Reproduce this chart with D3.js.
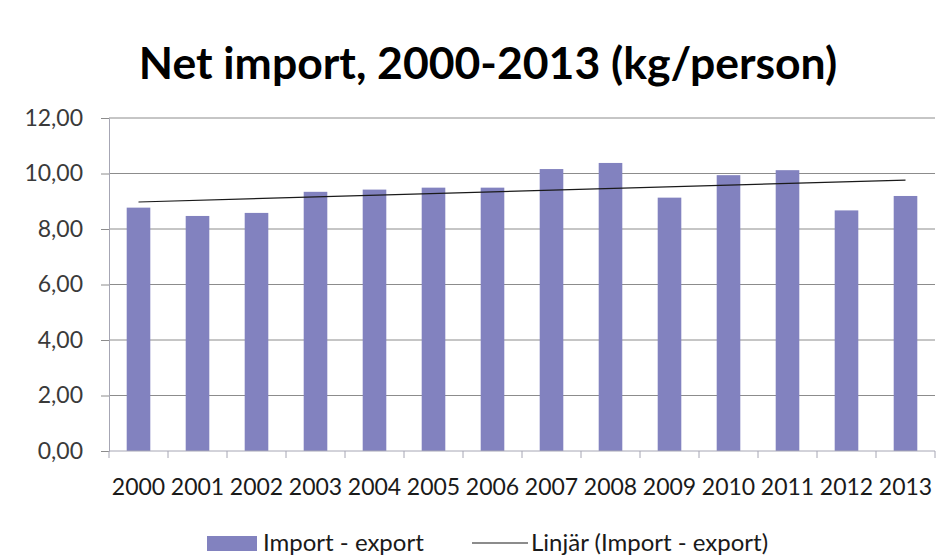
<!DOCTYPE html>
<html>
<head>
<meta charset="utf-8">
<script src="https://cdn.jsdelivr.net/npm/d3@7/dist/d3.min.js"></script>
<style>
  html, body { margin: 0; padding: 0; background: #ffffff; }
  svg { display: block; font-family: Lato, "Open Sans", sans-serif; }
</style>
</head>
<body>
<svg id="chart" width="951" height="560"></svg>
<script>
// Net import per person, 2000-2013
const years = ["2000","2001","2002","2003","2004","2005","2006","2007","2008","2009","2010","2011","2012","2013"];
const netImport = [8.77, 8.47, 8.58, 9.34, 9.42, 9.49, 9.49, 10.16, 10.38, 9.13, 9.94, 10.12, 8.67, 9.19];
const yTicks = [0, 2, 4, 6, 8, 10, 12];
const titleText = "Net import, 2000-2013 (kg/person)";
const barLegend = "Import - export";
const trendLegend = "Linjär (Import - export)";

const svg = d3.select("#chart");
const plot = { left: 109, right: 935, top: 118, bottom: 451 };
const barColor = "#8282bf";
const fmt = v => d3.format(".2f")(v).replace(".", ",");

const x = d3.scaleBand().domain(years).range([plot.left, plot.right]).paddingInner(0.6).paddingOuter(0.3);
const xCat = d3.scaleBand().domain(years).range([plot.left, plot.right]);
const y = d3.scaleLinear().domain([0, 12]).range([plot.bottom, plot.top]);

// Title
svg.append("text")
  .attr("x", 488).attr("y", 79)
  .attr("text-anchor", "middle")
  .attr("font-weight", "bold")
  .attr("font-size", 44.5)
  .attr("fill", "#000")
  .text(titleText);

// Horizontal gridlines
svg.append("g")
  .selectAll("line")
  .data(yTicks.filter(d => d > 0))
  .join("line")
  .attr("x1", plot.left).attr("x2", plot.right)
  .attr("y1", d => y(d)).attr("y2", d => y(d))
  .attr("stroke", "#8c8c8c").attr("stroke-width", 1);

// Y axis
const yAxis = svg.append("g")
  .attr("transform", `translate(${plot.left},0)`)
  .call(d3.axisLeft(y).tickValues(yTicks).tickFormat(fmt).tickSize(8).tickPadding(18));
yAxis.select(".domain").attr("stroke", "#a6a6b4");
yAxis.selectAll(".tick line").attr("stroke", "#8c8c8c");
yAxis.selectAll("text").attr("font-size", 23).attr("fill", "#3a3a3a").attr("font-family", "Lato, sans-serif");

// Bars
svg.append("g")
  .selectAll("rect")
  .data(netImport)
  .join("rect")
  .attr("x", (d, i) => x(years[i]))
  .attr("width", x.bandwidth())
  .attr("y", d => y(d))
  .attr("height", d => y(0) - y(d))
  .attr("fill", barColor);

// X axis with ticks on category boundaries
const xAxis = svg.append("g").attr("transform", `translate(0,${plot.bottom})`);
xAxis.append("line")
  .attr("x1", plot.left).attr("x2", plot.right)
  .attr("stroke", "#a6a6b4");
xAxis.selectAll("line.tick")
  .data(years.concat(["end"]))
  .join("line")
  .attr("class", "tick")
  .attr("x1", (d, i) => plot.left + i * xCat.step())
  .attr("x2", (d, i) => plot.left + i * xCat.step())
  .attr("y1", 0).attr("y2", 7)
  .attr("stroke", "#a6a6b4");
xAxis.selectAll("text")
  .data(years)
  .join("text")
  .attr("x", d => xCat(d) + xCat.bandwidth() / 2)
  .attr("y", 44)
  .attr("text-anchor", "middle")
  .attr("font-size", 23)
  .attr("fill", "#1a1a1a")
  .text(d => d);

// Linear trendline (least squares over the series)
const n = netImport.length;
const xs = d3.range(n);
const mx = d3.mean(xs), my = d3.mean(netImport);
const slope = d3.sum(xs, i => (i - mx) * (netImport[i] - my)) / d3.sum(xs, i => (i - mx) ** 2);
const intercept = my - slope * mx;
const trend = [0, n - 1].map(i => [xCat(years[i]) + xCat.bandwidth() / 2, y(intercept + slope * i)]);
svg.append("path")
  .attr("d", d3.line()(trend))
  .attr("fill", "none")
  .attr("stroke", "#1a1a1a")
  .attr("stroke-width", 1.2);

// Legend
const lg = svg.append("g");
lg.append("rect").attr("x", 207).attr("y", 536).attr("width", 50).attr("height", 15).attr("fill", barColor);
lg.append("text").attr("x", 263).attr("y", 551).attr("font-size", 24).attr("fill", "#1a1a1a").text(barLegend);
lg.append("line").attr("x1", 472).attr("x2", 528).attr("y1", 543).attr("y2", 543).attr("stroke", "#1a1a1a").attr("stroke-width", 1.2);
lg.append("text").attr("x", 531).attr("y", 551).attr("font-size", 24).attr("fill", "#1a1a1a").text(trendLegend);
</script>
</body>
</html>
